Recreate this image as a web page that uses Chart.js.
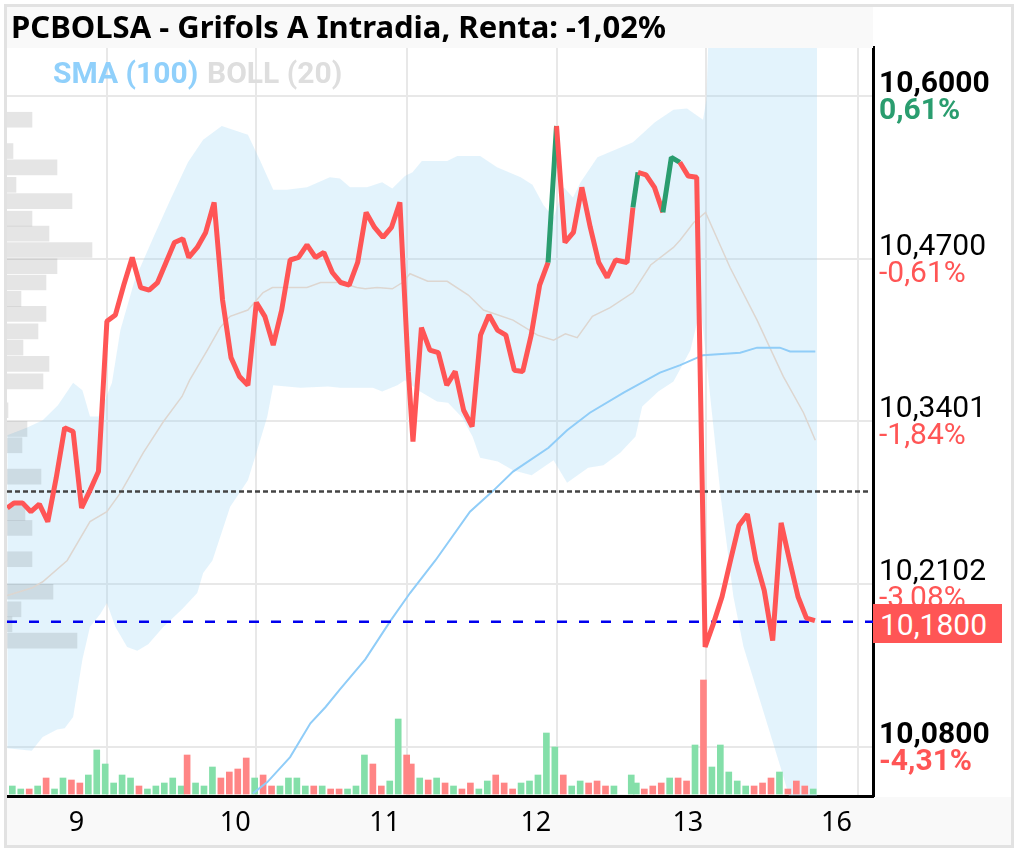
<!DOCTYPE html>
<html lang="es">
<head>
<meta charset="utf-8">
<title>PCBOLSA - Grifols A Intradia</title>
<script src="https://cdn.jsdelivr.net/npm/chart.js@4/dist/chart.umd.js"></script>
<style>
  html, body { margin: 0; padding: 0; background: #fff; }
  #page { position: relative; width: 1017px; height: 851px; overflow: hidden; }
  #frame { position: absolute; left: 4px; top: 4px; width: 1010px; height: 844px; box-sizing: border-box; border: 3px solid #e2e2e2; }
  #foot { position: absolute; left: 7px; top: 797px; width: 1004px; height: 48px; background: #f9f9f9; }
  #grafico { position: absolute; left: 0; top: 0; filter: blur(0.5px); }
  #titulo { position: absolute; left: 7px; top: 7px; width: 866px; height: 41px; background: #f9f9f9; color: #000;
    font: bold 31px "Noto Sans", sans-serif; line-height: 39px; padding-left: 4px; box-sizing: border-box; white-space: nowrap; }
  .leyenda { position: absolute; top: 55px; font: bold 30px Roboto, sans-serif; line-height: 36px; white-space: nowrap; }
  #precio { position: absolute; left: 873px; top: 604px; width: 129px; height: 39px; background: #ff5555; color: #fff;
    font: 30px Roboto, sans-serif; line-height: 42px; padding-left: 7px; box-sizing: border-box; }
</style>
</head>
<body>
<div id="page">
  <div id="foot"></div>
  <canvas id="grafico" width="1017" height="851"></canvas>
  <div id="frame"></div>
  <div id="titulo">PCBOLSA - Grifols A Intradia, Renta: -1,02%</div>
  <div class="leyenda" style="left:53px;color:#90d0fb">SMA (100)</div>
  <div class="leyenda" style="left:207px;color:#dedede">BOLL (20)</div>
  <div id="precio">10,1800</div>
</div>
<script>
// ====== Ejes ======
const dayLabels = ['9', '10', '11', '12', '13', '16'];
const dayLabelSlots = [7.6, 26.4, 44.1, 62, 80, 97.6];
const dayGridSlots = [11.2, 28.8, 46.8, 64.5, 82.2, 100.2];
const priceTicks = [10.6, 10.47, 10.3401, 10.2102, 10.08];
const priceLabels = ['10,6000', '10,4700', '10,3401', '10,2102', '10,0800'];
const pctLabels = ['0,61%', '-0,61%', '-1,84%', '-3,08%', '-4,31%'];

// ====== Sesiones (hueco en 72.6, primer punto sin volumen) ======
const slots = [-0.8,
  0, 1, 2, 3, 4, 5, 6, 7, 8, 9, 10, 11, 12, 13, 14, 15, 16, 17, 18, 19, 20,
  20.7, 21.7, 22.7, 23.7, 24.7, 25.7, 26.7, 27.7, 28.7, 29.7, 30.7, 31.7, 32.7, 33.7,
  34.7, 35.7, 36.7, 37.7, 38.7, 39.7, 40.7, 41.7, 42.7, 43.7, 44.7, 45.7, 46.7,
  47.25, 48.25, 49.25, 50.25, 51.25, 52.25, 53.25, 54.25, 55.25, 56.25, 57.25, 58.25,
  59.25, 60.25, 61.25, 62.25, 63.25, 64.25, 65.25, 66.25, 67.25, 68.25, 69.25, 70.25, 71.25,
  72.6, 73.3, 73.9,
  74.85, 75.85, 76.85, 77.85, 78.85, 79.85, 80.85, 81.85, 82.85, 83.85, 84.85,
  85.85, 86.85, 87.85, 88.85, 89.85, 90.85, 91.85, 92.85, 93.85, 94.85];

const closes = [10.271,
  10.275, 10.275, 10.268, 10.274, 10.260, 10.295, 10.335, 10.332, 10.271, 10.285,
  10.300, 10.420, 10.425, 10.449, 10.471, 10.447, 10.445, 10.451, 10.467, 10.483,
  10.486, 10.471, 10.479, 10.491, 10.515, 10.437, 10.391, 10.376, 10.369, 10.435,
  10.424, 10.401, 10.429, 10.469, 10.471, 10.481, 10.471, 10.475, 10.459, 10.451,
  10.449, 10.467, 10.507, 10.495, 10.487, 10.495, 10.515, 10.380, 10.324, 10.415,
  10.397, 10.395, 10.369, 10.380, 10.349, 10.336, 10.409, 10.425, 10.413, 10.409,
  10.381, 10.380, 10.409, 10.449, 10.467, 10.576, 10.483, 10.491, 10.527, 10.495,
  10.467, 10.455, 10.469, 10.467,
  10.511, 10.539, 10.537, 10.527, 10.507, 10.551, 10.547,
  10.536, 10.535, 10.160, 10.179, 10.200, 10.229, 10.257, 10.266, 10.229, 10.205,
  10.165, 10.259, 10.229, 10.200, 10.183, 10.181];
const greenSegments = [65, 75, 79, 80];

const volumes = [null,
  8, 5, 5, 8, 16, 5, 16, 14, 11, 19,
  44, 30, 11, 19, 16, 8, 5, 8, 11, 16,
  8, 39, 11, 8, 27, 16, 22, 25, 36, 16,
  19, 8, 8, 16, 16, 8, 8, 8, 5, 5,
  5, 8, 39, 30, 8, 13, 75, 39, 30, 16,
  14, 16, 11, 8, 5, 11, 5, 13, 19, 11,
  5, 11, 13, 19, 61, 47, 19, 8, 13, 11,
  13, 8, 8, null,
  19, 11, 5, 8, 11, 16, 16,
  13, 49, 114, 27, 49, 22, 13, 8, 8, 11,
  16, 22, 5, 13, 8, 5];
const volumeUp = [0,
  1, 1, 0, 1, 0, 1, 1, 0, 0, 1,
  1, 1, 1, 1, 1, 0, 1, 1, 1, 1,
  1, 0, 1, 1, 1, 0, 0, 0, 0, 1,
  0, 0, 1, 1, 1, 1, 0, 1, 0, 0,
  1, 1, 1, 0, 0, 1, 1, 0, 0, 1,
  0, 1, 0, 1, 0, 0, 1, 1, 0, 0,
  0, 1, 1, 1, 1, 1, 0, 1, 1, 0,
  0, 0, 1, 0,
  1, 1, 0, 0, 0, 1, 0,
  0, 1, 0, 1, 1, 1, 1, 1, 0, 0,
  0, 1, 0, 0, 0, 1];

// ====== Bollinger (20) ======
const upperSlots = [-0.6, 1.7, 3.6, 5.4, 7.2, 8.3, 9.2, 10.2, 11.8, 12.8, 14.5, 16.7, 18.7, 20.8, 22.6, 24.8, 27.9, 29.3, 30.9, 32.5,
  34.9, 37.6, 38.8, 40, 42, 43.8, 45, 46.5, 47.4, 48.5, 51.5, 52.7, 55.4, 57.4, 60.2, 61.6, 62.9, 64.1, 65.3, 66.4,
  67.3, 69.3, 73.5, 76.1, 78.3, 79.9, 81.8, 82.2, 82.4, 82.9, 95.3];
const upperBand = [10.329, 10.335, 10.341, 10.353, 10.371, 10.365, 10.344, 10.344, 10.371, 10.413, 10.453, 10.487, 10.517, 10.547, 10.565, 10.576, 10.569, 10.549, 10.525, 10.525,
  10.527, 10.535, 10.534, 10.527, 10.527, 10.531, 10.526, 10.536, 10.539, 10.548, 10.548, 10.552, 10.552, 10.543, 10.535, 10.529, 10.513, 10.503, 10.527, 10.519,
  10.531, 10.551, 10.563, 10.579, 10.589, 10.590, 10.581, 10.597, 10.638, 10.677, 10.700];

const lowerSlots = [-0.6, 2.3, 3.6, 5.3, 6.2, 7.2, 8.3, 9.2, 10.4, 11.2, 12.2, 13.6, 14.8, 16.1, 17.9, 20.1, 21.9, 22.6, 23.7, 25.8,
  27.9, 29, 30.2, 30.9, 34.1, 37.4, 38.8, 42.7, 43.8, 45.6, 46.5, 48.3, 50.3, 51.6, 53.3, 54.5, 55.4, 57.5, 59.3, 61.5,
  64.1, 65.7, 68.2, 70, 72, 73.8, 74.6, 76.5, 78.3, 80.3, 81.1, 81.5, 82.1, 82.9, 83.9, 85.4, 86.6, 91.2, 92.1, 95.3];
const lowerBand = [10.079, 10.077, 10.088, 10.094, 10.095, 10.104, 10.150, 10.176, 10.186, 10.195, 10.176, 10.160, 10.157, 10.162, 10.176, 10.190, 10.203, 10.219, 10.229, 10.272,
  10.293, 10.317, 10.344, 10.369, 10.367, 10.368, 10.367, 10.367, 10.364, 10.369, 10.373, 10.364, 10.356, 10.355, 10.343, 10.328, 10.311, 10.308, 10.301, 10.297,
  10.309, 10.291, 10.303, 10.305, 10.315, 10.328, 10.352, 10.364, 10.372, 10.397, 10.419, 10.433, 10.395, 10.344, 10.280, 10.200, 10.160, 10.059, 10.038, 9.974];

const midSlots = [-0.6, 2.3, 3.6, 6.5, 9.2, 11.2, 12.8, 15.5, 17.9, 20.1, 21, 23.1, 24.6, 25.8, 27.9, 29.7, 30.8, 34.9, 36.5, 38.8,
  40.8, 41.8, 43.2, 45, 46.2, 47.1, 49.2, 51.5, 54, 55.8, 59.3, 62.2, 64.1, 65.5, 66.9, 68.7, 70.8, 73.5, 75.6, 78.3,
  79.1, 80.7, 82.1, 85, 88.2, 91.3, 93.7, 95.1];
const midBand = [10.201, 10.207, 10.212, 10.229, 10.260, 10.268, 10.283, 10.315, 10.340, 10.360, 10.373, 10.397, 10.415, 10.424, 10.429, 10.443, 10.447, 10.447, 10.451, 10.451,
  10.447, 10.446, 10.447, 10.446, 10.451, 10.458, 10.452, 10.452, 10.441, 10.429, 10.421, 10.409, 10.405, 10.410, 10.407, 10.424, 10.431, 10.443, 10.465, 10.479,
  10.485, 10.499, 10.507, 10.463, 10.421, 10.376, 10.347, 10.325];

// ====== SMA (100) ======
const smaSlots = [28.5, 30.2, 32.9, 35.3, 37.1, 38.8, 41.8, 44.8, 47.1, 50.1, 54.2, 57, 59.3, 63.5, 65.7, 68.4, 72.4, 76.7, 79.1, 81.8,
  86.2, 88.2, 90.9, 92.1, 95.1];
const smaValues = [10.043, 10.052, 10.072, 10.099, 10.112, 10.126, 10.150, 10.181, 10.203, 10.229, 10.268, 10.285, 10.300, 10.319, 10.333, 10.347, 10.363, 10.379, 10.385, 10.393,
  10.395, 10.399, 10.399, 10.396, 10.396];

// ====== Perfil de volumen por precio ======
const profilePrices = [10.581, 10.556, 10.543, 10.529, 10.516, 10.502, 10.490, 10.477, 10.464, 10.451, 10.438, 10.426, 10.412, 10.399,
  10.386, 10.372, 10.349, 10.334, 10.321, 10.296, 10.267, 10.255, 10.230, 10.204, 10.190, 10.178, 10.165];
const profileVolumes = [25, 6, 50, 9, 65, 25, 42, 85, 50, 39, 14, 39, 31, 16, 42, 36, 1, 20, 15, 34, 18, 25, 25, 46, 14, 5, 70];

// ====== Lineas de referencia ======
const prevLevel = 10.284;
const lastPrice = 10.18;

// ====== Utilidades ======
const xMin = -0.63;
const xMax = 101.93;
const RED = '#ff5555';
const GREEN = '#2a9d6f';
const pairs = (xs, ys) => xs.map((x, i) => ({ x, y: ys[i] }));
const isBoldTick = i => i === 0 || i === priceTicks.length - 1;

// porcentajes bajo cada precio del eje
const pctPlugin = {
  id: 'pctLabels',
  afterDraw(chart) {
    const { ctx, scales: { y } } = chart;
    ctx.save();
    ctx.textAlign = 'left';
    ctx.textBaseline = 'middle';
    priceTicks.forEach((value, i) => {
      ctx.font = `${isBoldTick(i) ? 'bold ' : ''}30px Roboto`;
      ctx.fillStyle = i === 0 ? GREEN : RED;
      ctx.fillText(pctLabels[i], y.right - y.width + 6, y.getPixelForValue(value) + 15.5);
    });
    ctx.restore();
  }
};

new Chart(document.getElementById('grafico'), {
  data: {
    datasets: [
      {
        type: 'line', label: 'BOLL sup', xAxisID: 'x', yAxisID: 'y', data: pairs(upperSlots, upperBand),
        borderWidth: 0, pointRadius: 0, fill: false, order: 9
      },
      {
        type: 'line', label: 'BOLL inf', xAxisID: 'x', yAxisID: 'y', data: pairs(lowerSlots, lowerBand),
        borderWidth: 0, pointRadius: 0, fill: '-1', backgroundColor: 'rgba(150,210,245,0.27)', order: 8
      },
      {
        type: 'bar', label: 'Perfil', indexAxis: 'y', xAxisID: 'xProfile', yAxisID: 'y',
        data: profilePrices.map((p, i) => ({ x: profileVolumes[i], y: p })),
        backgroundColor: 'rgba(0,0,0,0.1)', barThickness: 15, grouped: false, order: 7
      },
      {
        type: 'bar', label: 'Volumen', xAxisID: 'x', yAxisID: 'yVol',
        data: pairs(slots, volumes),
        backgroundColor: volumeUp.map(up => up ? '#84dfa9' : '#ff8585'),
        barThickness: 6, grouped: false, order: 6
      },
      {
        type: 'line', label: 'BOLL (20)', xAxisID: 'x', yAxisID: 'y', data: pairs(midSlots, midBand),
        borderColor: '#ddd6d0', borderWidth: 1.5, pointRadius: 0, order: 5
      },
      {
        type: 'line', label: 'SMA (100)', xAxisID: 'x', yAxisID: 'y', data: pairs(smaSlots, smaValues),
        borderColor: '#90cdf8', borderWidth: 2, pointRadius: 0, order: 4
      },
      {
        type: 'line', label: 'Referencia', xAxisID: 'x', yAxisID: 'y', data: pairs([xMin, xMax - 0.3], [prevLevel, prevLevel]),
        borderColor: '#444', borderWidth: 2.5, borderDash: [5, 3], pointRadius: 0, order: 3
      },
      {
        type: 'line', label: 'Ultimo', xAxisID: 'x', yAxisID: 'y', data: pairs([xMin, xMax], [lastPrice, lastPrice]),
        borderColor: '#0000ee', borderWidth: 2.5, borderDash: [10, 12], pointRadius: 0, order: 2
      },
      {
        type: 'line', label: 'Grifols A', xAxisID: 'x', yAxisID: 'y', data: slots.map((s, i) => ({ x: s + 0.2, y: closes[i] })),
        borderColor: RED, borderWidth: 5, borderJoinStyle: 'bevel', pointRadius: 0, order: 1,
        segment: { borderColor: ctx => greenSegments.includes(ctx.p0DataIndex) ? GREEN : RED }
      }
    ]
  },
  options: {
    responsive: false,
    animation: false,
    devicePixelRatio: 1,
    layout: { padding: { left: 7, top: 47, right: 0, bottom: 0 } },
    plugins: { legend: { display: false }, tooltip: { enabled: false } },
    scales: {
      x: {
        type: 'linear', position: 'bottom', min: xMin, max: xMax, weight: 0, offset: false,
        grid: { color: '#e8e8e8', lineWidth: 2, drawTicks: false, offset: false },
        border: { color: '#000', width: 3 },
        ticks: { display: false },
        afterBuildTicks: axis => { axis.ticks = dayGridSlots.map(value => ({ value })); },
        afterFit: axis => { axis.height = 0; }
      },
      xDays: {
        type: 'linear', position: 'bottom', min: xMin, max: xMax, weight: 1,
        grid: { display: false, drawTicks: false },
        border: { display: false },
        ticks: {
          color: '#000', padding: 11, autoSkip: false, maxRotation: 0,
          font: { family: '"Noto Sans"', size: 27 },
          callback: (v, i) => dayLabels[i]
        },
        afterBuildTicks: axis => { axis.ticks = dayLabelSlots.map(value => ({ value })); },
        afterFit: axis => { axis.height = 55; }
      },
      xProfile: { type: 'linear', display: false, position: 'bottom', min: 0, max: 866, offset: false },
      yVol: { type: 'linear', display: false, position: 'left', min: -2, max: 747, offset: false },
      y: {
        type: 'linear', position: 'right', min: 10.0409, max: 10.6391, offset: false,
        grid: { color: '#e8e8e8', lineWidth: 2, drawTicks: false, offset: false },
        border: { color: '#000', width: 3 },
        ticks: {
          padding: 6, autoSkip: false, color: '#000',
          font: ctx => ({
            family: 'Roboto', size: 30, lineHeight: '23px',
            weight: isBoldTick(ctx.index) ? 'bold' : 'normal'
          }),
          callback: (v, i) => [priceLabels[i], '']
        },
        afterBuildTicks: axis => { axis.ticks = priceTicks.map(value => ({ value })); },
        afterFit: axis => { axis.width = 144; }
      }
    }
  },
  plugins: [pctPlugin]
});
</script>
</body>
</html>
